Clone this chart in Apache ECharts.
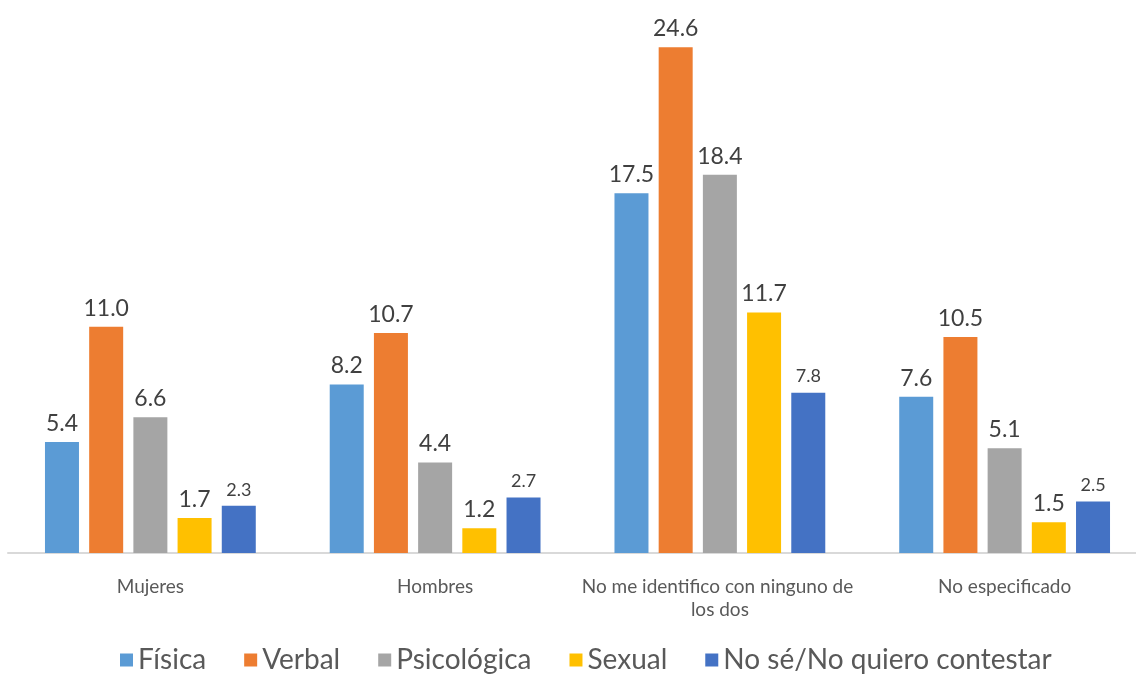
<!DOCTYPE html>
<html>
<head>
<meta charset="utf-8">
<script src="https://cdn.jsdelivr.net/npm/echarts@6/dist/echarts.min.js"></script>
<style>
  html, body { margin: 0; padding: 0; background: #fff; }
  #main { width: 1136px; height: 676px; }
</style>
</head>
<body>
<div id="main"></div>
<script>
// categorias del eje x
var categorias = ['Mujeres', 'Hombres', 'No me identifico con ninguno de los dos', 'No especificado'];
// series (porcentaje)
var fisica = [5.4, 8.2, 17.5, 7.6];
var verbal = [11.0, 10.7, 24.6, 10.5];
var psicologica = [6.6, 4.4, 18.4, 5.1];
var sexual = [1.7, 1.2, 11.7, 1.5];
var noSe = [2.3, 2.7, 7.8, 2.5];

var nombres = ['Física', 'Verbal', 'Psicológica', 'Sexual', 'No sé/No quiero contestar'];
var colores = ['#5B9BD5', '#ED7D31', '#A5A5A5', '#FFC000', '#4472C4'];
var valores = [fisica, verbal, psicologica, sexual, noSe];

var myChart = echarts.init(document.getElementById('main'));

var series = [];
for (var i = 0; i < valores.length; i++) {
    series.push({
        name: nombres[i],
        type: 'bar',
        data: valores[i],
        barWidth: 34,
        barGap: '30%',
        itemStyle: { color: colores[i] },
        label: {
            show: true,
            position: 'top',
            distance: 7,
            color: '#404040',
            fontFamily: 'Lato',
            fontSize: i == 4 ? 18 : 23,
            formatter: function (p) { return p.value.toFixed(1); }
        }
    });
}

var option = {
    animation: false,
    textStyle: { fontFamily: 'Lato' },
    color: colores,
    grid: { left: 8, top: 39, width: 1139, height: 514, containLabel: false, outerBoundsMode: 'none' },
    legend: {
        data: nombres,
        top: 641,
        left: 115,
        itemWidth: 13,
        itemHeight: 13,
        itemGap: 38,
        icon: 'rect',
        textStyle: { color: '#595959', fontSize: 28, fontFamily: 'Lato' }
    },
    xAxis: {
        type: 'category',
        data: categorias,
        axisLine: { lineStyle: { color: '#D9D9D9', width: 2 } },
        axisTick: { show: false },
        axisLabel: {
            color: '#595959',
            fontSize: 19,
            margin: 22,
            lineHeight: 23,
            width: 290,
            overflow: 'break',
            interval: 0
        }
    },
    yAxis: {
        type: 'value',
        min: 0,
        max: 25,
        show: false,
        splitLine: { show: false }
    },
    series: series
};

myChart.setOption(option);
</script>
</body>
</html>
